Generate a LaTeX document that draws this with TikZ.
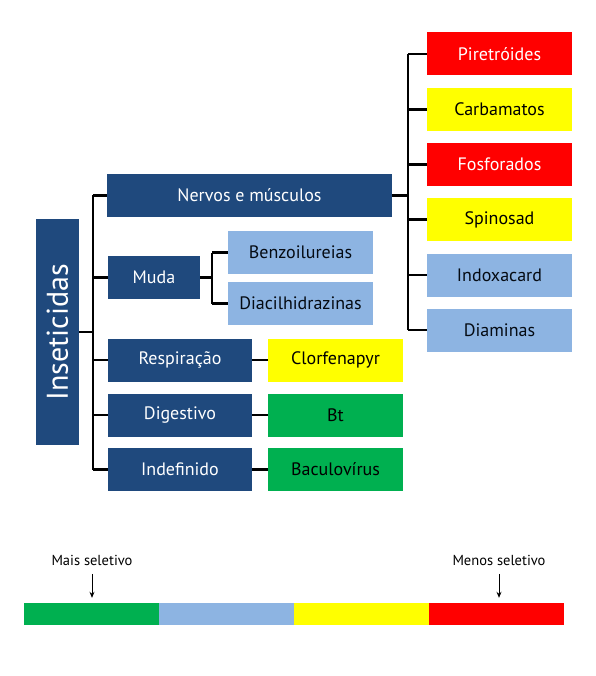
\documentclass[tikz,border=0pt]{standalone}
\usepackage{fontspec}
\setmainfont{PT Sans}
\usetikzlibrary{arrows.meta}
\definecolor{navy}{RGB}{31,73,125}
\definecolor{lblue}{RGB}{141,180,226}
\definecolor{grn}{RGB}{0,176,80}
\definecolor{ylw}{RGB}{255,255,0}
\definecolor{rd}{RGB}{255,0,0}
\begin{document}
\begin{tikzpicture}[x=1pt, y=-1pt,
  box/.style={inner sep=0, minimum height=43, font=\fontsize{18}{21}\selectfont},
  dark/.style={box, fill=navy, text=white},
  pale/.style={box, fill=lblue, text=black!85!navy, minimum width=145},
  yel/.style={box, fill=ylw, text=black},
  red/.style={box, fill=rd, text=white},
  grnbox/.style={box, fill=grn, text=black},
  link/.style={line width=2.4pt, black},
  seg/.style={inner sep=0, minimum width=135, minimum height=22},
  tag/.style={font=\fontsize{14.5}{17}\selectfont}]
\useasboundingbox (0,0) rectangle (595,676);

\node[dark, minimum width=43, minimum height=226] (ins) at (57.5,332)
  {\rotatebox{90}{\fontsize{30}{34}\selectfont Inseticidas}};

\node[dark, minimum width=285] (nerv)  at (249.5,195.5) {Nervos e músculos};
\node[dark, minimum width=92]  (muda)  at (154,277.5)   {Muda};
\node[dark, minimum width=144] (resp)  at (180,360)     {Respiração};
\node[dark, minimum width=144] (dig)   at (180,415)     {Digestivo};
\node[dark, minimum width=144] (indef) at (180,469.5)   {Indefinido};

\node[pale] (benz) at (300.5,252.5) {Benzoilureias};
\node[pale] (diac) at (300.5,303.5) {Diacilhidrazinas};

\node[yel, minimum width=135]    (clorf) at (335.5,360)   {Clorfenapyr};
\node[grnbox, minimum width=135] (bt)    at (335.5,415)   {Bt};
\node[grnbox, minimum width=135] (bacul) at (335.5,469.5) {Baculovírus};

\node[red, minimum width=145] (pire) at (499.5,54)    {Piretróides};
\node[yel, minimum width=145] (carb) at (499.5,109.5) {Carbamatos};
\node[red, minimum width=145] (fosf) at (499.5,164.5) {Fosforados};
\node[yel, minimum width=145] (spin) at (499.5,219.5) {Spinosad};
\node[pale] (indox) at (499.5,275) {Indoxacard};
\node[pale] (diam)  at (499.5,330) {Diaminas};

% trunks of the tree
\coordinate (tl) at (93,0);
\coordinate (tm) at (212,0);
\coordinate (tr) at (408,0);

\path[link]
(ins) edge (ins -| tl)
(tl |- nerv) edge (nerv) edge (tl |- indef)
(tl |- muda) edge (muda)
(tl |- resp) edge (resp)
(tl |- dig) edge (dig)
(tl |- indef) edge (indef)

(muda) edge (muda -| tm)
(tm |- benz) edge (benz) edge (tm |- diac)
(tm |- diac) edge (diac)

(resp) edge (clorf)
(dig) edge (bt)
(indef) edge (bacul)

(nerv) edge (nerv -| tr)
(tr |- pire) edge (pire) edge (tr |- diam)
(tr |- carb) edge (carb)
(tr |- fosf) edge (fosf)
(tr |- spin) edge (spin)
(tr |- indox) edge (indox)
(tr |- diam) edge (diam)
;

% selectivity scale
\node[seg, fill=grn]   (s1) at (91.5,614)  {};
\node[seg, fill=lblue] (s2) at (226.5,614) {};
\node[seg, fill=ylw]   (s3) at (361.5,614) {};
\node[seg, fill=rd]    (s4) at (496.5,614) {};

\node[tag] (mais)  at (92,560)  {Mais seletivo};
\node[tag] (menos) at (499,560) {Menos seletivo};
\draw[-{Stealth[length=6pt,width=5pt]}, line width=0.9pt]
  ([yshift=-5pt]mais.south) -- ([yshift=5pt]s1.north -| mais);
\draw[-{Stealth[length=6pt,width=5pt]}, line width=0.9pt]
  ([yshift=-5pt]menos.south) -- ([yshift=5pt]s4.north -| menos);
\end{tikzpicture}
\end{document}
